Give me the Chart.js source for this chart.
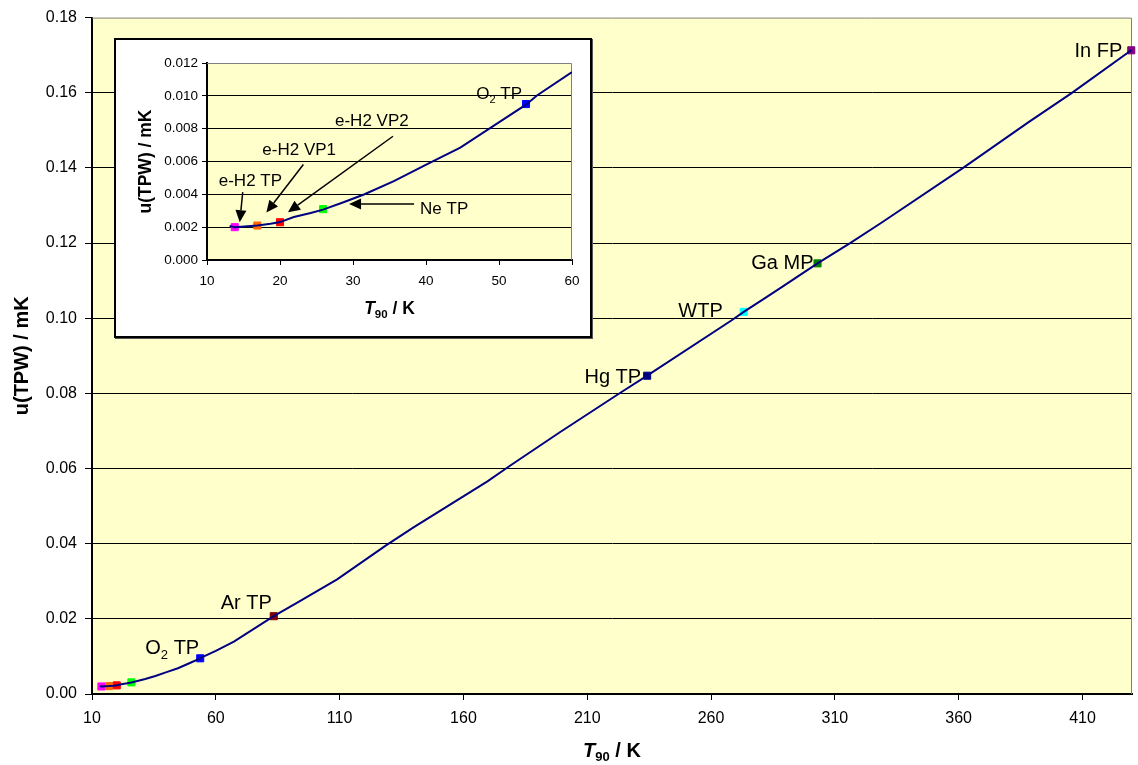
<!DOCTYPE html>
<html>
<head>
<meta charset="utf-8">
<script src="https://cdn.jsdelivr.net/npm/chart.js@4.4.0/dist/chart.umd.min.js"></script>
<style>
  html, body { margin: 0; padding: 0; background: #fff; }
  #wrap { position: relative; width: 1138px; height: 765px; }
  #mainChart { position: absolute; left: 0; top: 0; }
  #insetBox { position: absolute; left: 114px; top: 38px; width: 478px; height: 300px; box-sizing: border-box;
              border: 2px solid #000; background: #fff; box-shadow: 1px 1px 0 #555; }
  #insetChart { display: block; }
</style>
</head>
<body>
<div id="wrap">
  <canvas id="mainChart" width="1138" height="765"></canvas>
  <div id="insetBox"><canvas id="insetChart" width="474" height="296"></canvas></div>
</div>
<script>
// curve u(TPW) vs T90
const curveT = [13.1, 13.8, 16.9, 18.7, 20.0, 21.9, 24.2, 25.9, 28.7, 31.5, 35.6, 40.1, 44.7, 49.3, 53.7, 55.2, 60.0,
    67.3, 83.4, 92.9, 109.0, 128.6, 140.0, 169.7, 178.5, 198.8, 223.7, 234.2, 268.2, 273.2, 281.0, 288.4,
    303.0, 316.0, 328.8, 361.8, 388.1, 405.6, 429.7];
const curveU = [0.00208, 0.00200, 0.00210, 0.00221, 0.00231, 0.00262, 0.00286, 0.00307, 0.00352, 0.00399, 0.00480,
    0.00583, 0.00685, 0.00818, 0.00946, 0.01002, 0.01145, 0.01393, 0.0207, 0.0243, 0.0305, 0.0395, 0.0444,
    0.0566, 0.0606, 0.0696, 0.0803, 0.0847, 0.0994, 0.1017, 0.1050, 0.1082, 0.1146, 0.1199, 0.1254, 0.1400,
    0.1521, 0.1599, 0.1713];

// fixed points
const pointNames = ['e-H2 TP', 'e-H2 VP1', 'e-H2 VP2', 'Ne TP', 'O2 TP', 'Ar TP', 'Hg TP', 'WTP', 'Ga MP', 'In FP'];
const pointT = [13.8, 16.9, 20.0, 25.9, 53.7, 83.4, 234.2, 273.2, 303.0, 429.7];
const pointU = [0.0020, 0.0021, 0.0023, 0.0031, 0.0095, 0.0207, 0.0847, 0.1017, 0.1146, 0.1713];
const pointColors = ['#FF00FF', '#FF6600', '#FF0000', '#00FF00', '#0000FF', '#800000', '#000080', '#00FFFF', '#008000', '#800080'];

const mainXTicks = [10, 60, 110, 160, 210, 260, 310, 360, 410];
const mainYTicks = [0, 0.02, 0.04, 0.06, 0.08, 0.10, 0.12, 0.14, 0.16, 0.18];
const insetXTicks = [10, 20, 30, 40, 50, 60];
const insetYTicks = [0, 0.002, 0.004, 0.006, 0.008, 0.010, 0.012];

const FONT = 'Arial, "Liberation Sans", sans-serif';
Chart.defaults.font.family = FONT;
Chart.defaults.color = '#000';

const plotFrame = {
    id: 'plotFrame',
    beforeDraw(chart) {
        const a = chart.chartArea, ctx = chart.ctx;
        ctx.save();
        ctx.fillStyle = '#FFFFCC';
        ctx.fillRect(a.left, a.top, a.right - a.left, a.bottom - a.top);
        ctx.restore();
    },
    beforeDatasetsDraw(chart) {
        const a = chart.chartArea, ctx = chart.ctx;
        ctx.save();
        ctx.strokeStyle = '#808080';
        ctx.lineWidth = 1;
        ctx.beginPath();
        ctx.moveTo(a.left, a.top + 0.5);
        ctx.lineTo(a.right - 0.5, a.top + 0.5);
        ctx.lineTo(a.right - 0.5, a.bottom);
        ctx.stroke();
        ctx.restore();
    }
};

function drawParts(ctx, parts, x, y, align) {
    let w = 0;
    parts.forEach(p => { ctx.font = p.font; w += ctx.measureText(p.text).width; });
    let cx = align === 'right' ? x - w : align === 'center' ? x - w / 2 : x;
    ctx.textAlign = 'left';
    ctx.textBaseline = 'alphabetic';
    parts.forEach(p => {
        ctx.font = p.font;
        ctx.fillText(p.text, cx, y + (p.dy || 0));
        cx += ctx.measureText(p.text).width;
    });
}

function labelParts(name, size) {
    const f = size + 'px ' + FONT;
    if (name.startsWith('O2')) {
        return [{ text: 'O', font: f }, { text: '2', font: Math.round(size * 0.65) + 'px ' + FONT, dy: size * 0.25 },
            { text: name.slice(2), font: f }];
    }
    return [{ text: name, font: f }];
}

function drawArrow(ctx, x1, y1, x2, y2) {
    const ang = Math.atan2(y2 - y1, x2 - x1), len = 12, hw = 5.5;
    const bx = x2 - len * Math.cos(ang), by = y2 - len * Math.sin(ang);
    ctx.lineWidth = 1.5;
    ctx.beginPath(); ctx.moveTo(x1, y1); ctx.lineTo(bx, by); ctx.stroke();
    ctx.beginPath();
    ctx.moveTo(x2, y2);
    ctx.lineTo(bx + hw * Math.sin(ang), by - hw * Math.cos(ang));
    ctx.lineTo(bx - hw * Math.sin(ang), by + hw * Math.cos(ang));
    ctx.closePath();
    ctx.fill();
}

function pointLabels(specs, size) {
    return {
        id: 'pointLabels',
        afterDatasetsDraw(chart) {
            const ctx = chart.ctx;
            const pts = chart.getDatasetMeta(1).data;
            ctx.save();
            ctx.fillStyle = '#000';
            ctx.strokeStyle = '#000';
            specs.forEach(s => {
                const p = pts[s.i];
                drawParts(ctx, labelParts(pointNames[s.i], size), p.x + s.dx, p.y + s.dy, s.align);
                if (s.arrow) drawArrow(ctx, p.x + s.arrow[0], p.y + s.arrow[1], p.x + s.arrow[2], p.y + s.arrow[3]);
            });
            ctx.restore();
        }
    };
}

function xTitle(size, subSize, baseY) {
    return {
        id: 'xTitle',
        afterDraw(chart) {
            const a = chart.chartArea, ctx = chart.ctx;
            ctx.save();
            ctx.fillStyle = '#000';
            drawParts(ctx, [
                { text: 'T', font: 'italic bold ' + size + 'px ' + FONT },
                { text: '90', font: 'bold ' + subSize + 'px ' + FONT, dy: size * 0.22 },
                { text: ' / K', font: 'bold ' + size + 'px ' + FONT }
            ], (a.left + a.right) / 2, baseY, 'center');
            ctx.restore();
        }
    };
}

function curveDataset(clip) {
    return {
        data: curveT.map((t, i) => ({ x: t, y: curveU[i] })),
        showLine: true,
        borderColor: '#000080',
        borderWidth: 2,
        pointRadius: 0,
        tension: 0,
        clip: clip
    };
}

function markerDataset(clip) {
    return {
        data: pointT.map((t, i) => ({ x: t, y: pointU[i] })),
        showLine: false,
        pointStyle: 'rect',
        pointRadius: 5,
        pointBackgroundColor: pointColors,
        pointBorderColor: pointColors,
        pointBorderWidth: 1,
        clip: clip
    };
}

const mainLabels = [
    { i: 4, dx: -1, dy: -4, align: 'right' },
    { i: 5, dx: -2, dy: -7, align: 'right' },
    { i: 6, dx: -6, dy: 7, align: 'right' },
    { i: 7, dx: -21, dy: 5, align: 'right' },
    { i: 8, dx: -4, dy: 6, align: 'right' },
    { i: 9, dx: -9, dy: 7, align: 'right' }
];

const insetLabels = [
    { i: 0, dx: -16, dy: -41, align: 'left', arrow: [8, -35, 5, -5] },
    { i: 1, dx: 5, dy: -71, align: 'left', arrow: [46, -61, 9, -13] },
    { i: 2, dx: 55, dy: -96, align: 'left', arrow: [113, -86, 8, -10] },
    { i: 3, dx: 97, dy: 5, align: 'left', arrow: [91, -5, 26, -5] },
    { i: 4, dx: -4, dy: -5, align: 'right' }
];

new Chart(document.getElementById('mainChart'), {
    type: 'scatter',
    data: { datasets: [curveDataset(1), markerDataset(false)] },
    options: {
        responsive: false,
        animation: false,
        layout: { padding: { left: 0, right: 5, top: 15, bottom: 0 } },
        plugins: { legend: { display: false }, tooltip: { enabled: false } },
        scales: {
            x: {
                type: 'linear', min: 10, max: 430,
                afterBuildTicks: s => { s.ticks = mainXTicks.map(v => ({ value: v })); },
                afterFit: s => { s.height = 71; },
                grid: { drawOnChartArea: false, tickLength: 6, color: '#000' },
                border: { color: '#000', width: 2 },
                ticks: { padding: 9, font: { size: 16 }, color: '#000' }
            },
            y: {
                type: 'linear', min: 0, max: 0.18,
                afterBuildTicks: s => { s.ticks = mainYTicks.map(v => ({ value: v })); },
                afterFit: s => { s.width = 92; },
                grid: { color: c => (c.tick && c.tick.value > 0.179) ? 'rgba(0,0,0,0)' : '#000', tickColor: '#000', tickLength: 7, lineWidth: 1 },
                border: { color: '#000', width: 2 },
                ticks: { padding: 8, font: { size: 16 }, color: '#000', callback: v => Number(v).toFixed(2) },
                title: { display: true, text: 'u(TPW) / mK', color: '#000', font: { size: 20, weight: 'bold' }, padding: { top: 10, bottom: 0 } }
            }
        }
    },
    plugins: [plotFrame, xTitle(20, 13, 757), pointLabels(mainLabels, 20)]
});

new Chart(document.getElementById('insetChart'), {
    type: 'scatter',
    data: { datasets: [curveDataset(0), markerDataset(4)] },
    options: {
        responsive: false,
        animation: false,
        layout: { padding: { left: 0, right: 18, top: 23, bottom: 0 } },
        plugins: { legend: { display: false }, tooltip: { enabled: false } },
        scales: {
            x: {
                type: 'linear', min: 10, max: 60,
                afterBuildTicks: s => { s.ticks = insetXTicks.map(v => ({ value: v })); },
                afterFit: s => { s.height = 76; },
                grid: { drawOnChartArea: false, tickLength: 5, color: '#000' },
                border: { color: '#000', width: 2 },
                ticks: { padding: 8, font: { size: 13.5 }, color: '#000' }
            },
            y: {
                type: 'linear', min: 0, max: 0.012,
                afterBuildTicks: s => { s.ticks = insetYTicks.map(v => ({ value: v })); },
                afterFit: s => { s.width = 91; },
                grid: { color: c => (c.tick && c.tick.value > 0.0119) ? 'rgba(0,0,0,0)' : '#000', tickColor: '#000', tickLength: 5, lineWidth: 1 },
                border: { color: '#000', width: 2 },
                ticks: { padding: 4, font: { size: 13.5 }, color: '#000', callback: v => Number(v).toFixed(3) },
                title: { display: true, text: 'u(TPW) / mK', color: '#000', font: { size: 17.5, weight: 'bold' }, padding: { top: 20, bottom: 0 } }
            }
        }
    },
    plugins: [plotFrame, xTitle(17.5, 11.5, 274), pointLabels(insetLabels, 17)]
});
</script>
</body>
</html>
